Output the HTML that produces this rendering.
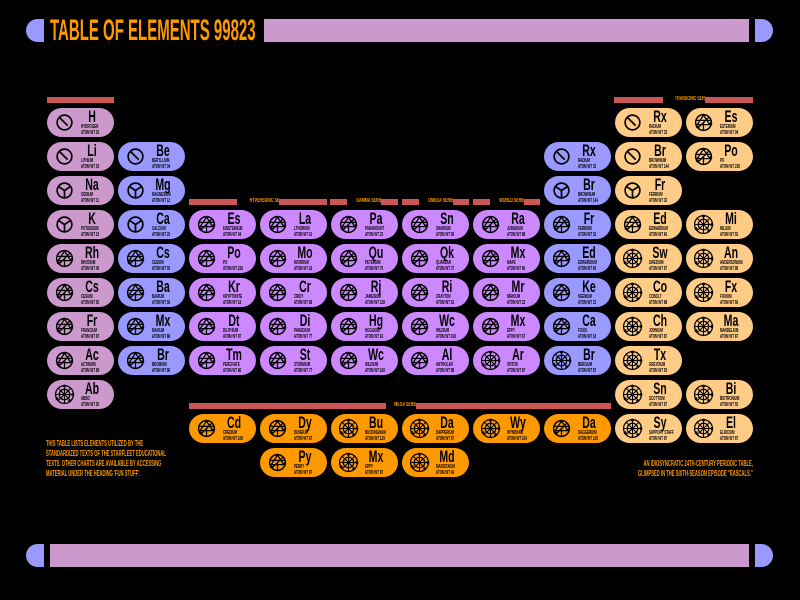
<!DOCTYPE html>
<html><head><meta charset="utf-8"><style>
*{margin:0;padding:0}
body{width:800px;height:600px;background:#000;position:relative;overflow:hidden;font-family:"Liberation Sans",sans-serif}
.a{position:absolute}
.p{position:absolute;width:67px;height:29px;border-radius:15px;overflow:hidden}
.pk{background:#cc99cc}.bl{background:#9999ff}.pu{background:#cc88ff}.pe{background:#ffcc88}.or{background:#ff9900}
.p svg{position:absolute;left:7px;top:4px;width:21px;height:21px}
.s{position:absolute;left:30px;top:0px;width:30px;text-align:center;font-weight:bold;font-size:17px;line-height:18px;color:#000;transform:scaleX(.62)}
.n{position:absolute;left:34px;top:17px;font-size:5px;line-height:5px;color:#000;font-weight:bold;transform:scaleX(.6);transform-origin:left;white-space:nowrap}
.w{position:absolute;left:34px;top:23px;font-size:5px;line-height:5px;color:#000;font-weight:bold;transform:scaleX(.6);transform-origin:left;white-space:nowrap}
.bar{position:absolute;background:#cc5555;height:6px}
.lab{position:absolute;background:#000;color:#ff9900;font-weight:bold;font-size:6px;line-height:7px;text-align:center;white-space:nowrap;overflow:hidden}
.lab span{display:inline-block;transform:scaleX(.6)}
.txt{position:absolute;color:#ff9900;font-weight:bold;font-size:8px;line-height:10px;white-space:nowrap;transform:scaleX(.52)}
</style></head><body>
<svg width="0" height="0" style="position:absolute">
<defs>
<symbol id="i1" viewBox="0 0 20 20"><circle cx="10" cy="10" r="7" fill="none" stroke="#000" stroke-width="1.6"/><line x1="5" y1="5" x2="13" y2="13" stroke="#000" stroke-width="1.6"/></symbol>
<symbol id="i2" viewBox="0 0 20 20"><circle cx="10" cy="10" r="7" fill="none" stroke="#000" stroke-width="1.6"/><path d="M10 10L4 6M10 10L16 6M10 10L10 17" stroke="#000" stroke-width="1.6"/></symbol>
<symbol id="i3" viewBox="0 0 20 20"><circle cx="10" cy="10" r="7.5" fill="none" stroke="#000" stroke-width="1.4"/><path d="M10 3L16 12L4 12ZM10 10L10 17M3 8L17 8M5 15L15 5" stroke="#000" stroke-width="1.2" fill="none"/><circle cx="10" cy="3" r="1.3"/><circle cx="17" cy="11" r="1.3"/><circle cx="4" cy="14" r="1.3"/></symbol>
<symbol id="i4" viewBox="0 0 20 20"><circle cx="10" cy="10" r="8.5" fill="none" stroke="#000" stroke-width="1.2"/><circle cx="10" cy="10" r="5" fill="none" stroke="#000" stroke-width="1.2"/><path d="M10 1V19M1 10H19M4 4L16 16M16 4L4 16" stroke="#000" stroke-width="1"/><circle cx="10" cy="2" r="1.4"/><circle cx="18" cy="10" r="1.4"/><circle cx="3" cy="14" r="1.4"/><circle cx="15" cy="16" r="1.4"/></symbol>
</defs></svg>

<!-- header -->
<div class="a" style="left:26px;top:19px;width:18px;height:23px;background:#9999ff;border-radius:12px 0 0 12px"></div>
<div class="a" style="left:50px;top:14px;color:#ff9900;font-weight:bold;font-size:30px;line-height:34px;white-space:nowrap;transform:scaleX(.5);transform-origin:left">TABLE OF ELEMENTS 99823</div>
<div class="a" style="left:264px;top:19px;width:485px;height:23px;background:#cc99cc"></div>
<div class="a" style="left:755px;top:19px;width:18px;height:23px;background:#9999ff;border-radius:0 12px 12px 0"></div>
<!-- footer -->
<div class="a" style="left:26px;top:544px;width:18px;height:23px;background:#9999ff;border-radius:12px 0 0 12px"></div>
<div class="a" style="left:50px;top:544px;width:699px;height:23px;background:#cc99cc"></div>
<div class="a" style="left:755px;top:544px;width:18px;height:23px;background:#9999ff;border-radius:0 12px 12px 0"></div>

<!-- series bars -->
<div class="bar" style="left:47px;top:97px;width:67px"></div>
<div class="bar" style="left:614px;top:97px;width:139px"></div><div class="lab" style="left:663px;top:96px;width:42px"><span>TRANSONIC SERIES</span></div>
<div class="bar" style="left:189px;top:199px;width:138px"></div><div class="lab" style="left:237px;top:198px;width:42px"><span>HYPERSONIC SERIES</span></div>
<div class="bar" style="left:330px;top:199px;width:68px"></div><div class="lab" style="left:347px;top:198px;width:34px"><span>GAMMA SERIES</span></div>
<div class="bar" style="left:402px;top:199px;width:67px"></div><div class="lab" style="left:419px;top:198px;width:34px"><span>OMEGA SERIES</span></div>
<div class="bar" style="left:473px;top:199px;width:67px"></div><div class="lab" style="left:490px;top:198px;width:34px"><span>WORLD SERIES</span></div>
<div class="bar" style="left:189px;top:403px;width:422px"></div><div class="lab" style="left:386px;top:402px;width:30px"><span>MEGA SERIES</span></div>

<!-- col0 -->
<div class="p pk" style="left:47px;top:108px"><svg><use href="#i1"/></svg><div class="s">H</div><div class="n">HYDROGEN</div><div class="w">ATOM WT 01</div></div>
<div class="p pk" style="left:47px;top:142px"><svg><use href="#i1"/></svg><div class="s">Li</div><div class="n">LITHIUM</div><div class="w">ATOM WT 03</div></div>
<div class="p pk" style="left:47px;top:176px"><svg><use href="#i2"/></svg><div class="s">Na</div><div class="n">SODIUM</div><div class="w">ATOM WT 11</div></div>
<div class="p pk" style="left:47px;top:210px"><svg><use href="#i2"/></svg><div class="s">K</div><div class="n">POTASSIUM</div><div class="w">ATOM WT 19</div></div>
<div class="p pk" style="left:47px;top:244px"><svg><use href="#i3"/></svg><div class="s">Rh</div><div class="n">RHODIUM</div><div class="w">ATOM WT 45</div></div>
<div class="p pk" style="left:47px;top:278px"><svg><use href="#i3"/></svg><div class="s">Cs</div><div class="n">CESIUM</div><div class="w">ATOM WT 55</div></div>
<div class="p pk" style="left:47px;top:312px"><svg><use href="#i3"/></svg><div class="s">Fr</div><div class="n">FRANCIUM</div><div class="w">ATOM WT 87</div></div>
<div class="p pk" style="left:47px;top:346px"><svg><use href="#i3"/></svg><div class="s">Ac</div><div class="n">ACTINIUM</div><div class="w">ATOM WT 89</div></div>
<div class="p pk" style="left:47px;top:380px"><svg><use href="#i4"/></svg><div class="s">Ab</div><div class="n">ABBO</div><div class="w">ATOM WT 55</div></div>
<!-- col1 -->
<div class="p bl" style="left:118px;top:142px"><svg><use href="#i1"/></svg><div class="s">Be</div><div class="n">BERYLLIUM</div><div class="w">ATOM WT 04</div></div>
<div class="p bl" style="left:118px;top:176px"><svg><use href="#i2"/></svg><div class="s">Mg</div><div class="n">MAGNESIUM</div><div class="w">ATOM WT 12</div></div>
<div class="p bl" style="left:118px;top:210px"><svg><use href="#i2"/></svg><div class="s">Ca</div><div class="n">CALCIUM</div><div class="w">ATOM WT 20</div></div>
<div class="p bl" style="left:118px;top:244px"><svg><use href="#i3"/></svg><div class="s">Cs</div><div class="n">CESIUM</div><div class="w">ATOM WT 55</div></div>
<div class="p bl" style="left:118px;top:278px"><svg><use href="#i3"/></svg><div class="s">Ba</div><div class="n">BARIUM</div><div class="w">ATOM WT 56</div></div>
<div class="p bl" style="left:118px;top:312px"><svg><use href="#i3"/></svg><div class="s">Mx</div><div class="n">MAXIUM</div><div class="w">ATOM WT 88</div></div>
<div class="p bl" style="left:118px;top:346px"><svg><use href="#i3"/></svg><div class="s">Br</div><div class="n">BROMIUM</div><div class="w">ATOM WT 80</div></div>
<!-- purple block -->
<div class="p pu" style="left:189px;top:210px"><svg><use href="#i3"/></svg><div class="s">Es</div><div class="n">EINSTEINIUM</div><div class="w">ATOM WT 04</div></div>
<div class="p pu" style="left:260px;top:210px"><svg><use href="#i3"/></svg><div class="s">La</div><div class="n">LTHORIUM</div><div class="w">ATOM WT 16</div></div>
<div class="p pu" style="left:331px;top:210px"><svg><use href="#i3"/></svg><div class="s">Pa</div><div class="n">PARAMOUNT</div><div class="w">ATOM WT 23</div></div>
<div class="p pu" style="left:402px;top:210px"><svg><use href="#i3"/></svg><div class="s">Sn</div><div class="n">SHAWIUM</div><div class="w">ATOM WT 56</div></div>
<div class="p pu" style="left:473px;top:210px"><svg><use href="#i3"/></svg><div class="s">Ra</div><div class="n">JURADIUM</div><div class="w">ATOM WT 88</div></div>
<div class="p pu" style="left:189px;top:244px"><svg><use href="#i3"/></svg><div class="s">Po</div><div class="n">PO</div><div class="w">ATOM WT 238</div></div>
<div class="p pu" style="left:260px;top:244px"><svg><use href="#i3"/></svg><div class="s">Mo</div><div class="n">MOORIUM</div><div class="w">ATOM WT 18</div></div>
<div class="p pu" style="left:331px;top:244px"><svg><use href="#i3"/></svg><div class="s">Qu</div><div class="n">PETERIUM</div><div class="w">ATOM WT 76</div></div>
<div class="p pu" style="left:402px;top:244px"><svg><use href="#i3"/></svg><div class="s">Qk</div><div class="n">QUARLAR</div><div class="w">ATOM WT 37</div></div>
<div class="p pu" style="left:473px;top:244px"><svg><use href="#i3"/></svg><div class="s">Mx</div><div class="n">MAPE</div><div class="w">ATOM WT 80</div></div>
<div class="p pu" style="left:189px;top:278px"><svg><use href="#i3"/></svg><div class="s">Kr</div><div class="n">KRYPTONITE</div><div class="w">ATOM WT 18</div></div>
<div class="p pu" style="left:260px;top:278px"><svg><use href="#i3"/></svg><div class="s">Cr</div><div class="n">CRIDY</div><div class="w">ATOM WT 68</div></div>
<div class="p pu" style="left:331px;top:278px"><svg><use href="#i3"/></svg><div class="s">Rj</div><div class="n">JAMESIUM</div><div class="w">ATOM WT 128</div></div>
<div class="p pu" style="left:402px;top:278px"><svg><use href="#i3"/></svg><div class="s">Ri</div><div class="n">CRAYTON</div><div class="w">ATOM WT 62</div></div>
<div class="p pu" style="left:473px;top:278px"><svg><use href="#i3"/></svg><div class="s">Mr</div><div class="n">MIRKIUM</div><div class="w">ATOM WT 22</div></div>
<div class="p pu" style="left:189px;top:312px"><svg><use href="#i3"/></svg><div class="s">Dt</div><div class="n">DILITHIUM</div><div class="w">ATOM WT 87</div></div>
<div class="p pu" style="left:260px;top:312px"><svg><use href="#i3"/></svg><div class="s">Di</div><div class="n">PARADIUM</div><div class="w">ATOM WT 77</div></div>
<div class="p pu" style="left:331px;top:312px"><svg><use href="#i3"/></svg><div class="s">Hg</div><div class="n">HOGGIUM</div><div class="w">ATOM WT 62</div></div>
<div class="p pu" style="left:402px;top:312px"><svg><use href="#i3"/></svg><div class="s">Wc</div><div class="n">WILDIUM</div><div class="w">ATOM WT 108</div></div>
<div class="p pu" style="left:473px;top:312px"><svg><use href="#i3"/></svg><div class="s">Mx</div><div class="n">EPPY</div><div class="w">ATOM WT 87</div></div>
<div class="p pu" style="left:189px;top:346px"><svg><use href="#i3"/></svg><div class="s">Tm</div><div class="n">PERCIVATE</div><div class="w">ATOM WT 86</div></div>
<div class="p pu" style="left:260px;top:346px"><svg><use href="#i3"/></svg><div class="s">St</div><div class="n">STORMIUM</div><div class="w">ATOM WT 77</div></div>
<div class="p pu" style="left:331px;top:346px"><svg><use href="#i3"/></svg><div class="s">Wc</div><div class="n">WILDIUM</div><div class="w">ATOM WT 108</div></div>
<div class="p pu" style="left:402px;top:346px"><svg><use href="#i3"/></svg><div class="s">Al</div><div class="n">ANTHOLAR</div><div class="w">ATOM WT 88</div></div>
<div class="p pu" style="left:473px;top:346px"><svg><use href="#i4"/></svg><div class="s">Ar</div><div class="n">ORTON</div><div class="w">ATOM WT 87</div></div>
<!-- col7 -->
<div class="p bl" style="left:544px;top:142px"><svg><use href="#i1"/></svg><div class="s">Rx</div><div class="n">RADIUM</div><div class="w">ATOM WT 32</div></div>
<div class="p bl" style="left:544px;top:176px"><svg><use href="#i2"/></svg><div class="s">Br</div><div class="n">BROWNIUM</div><div class="w">ATOM WT 144</div></div>
<div class="p bl" style="left:544px;top:210px"><svg><use href="#i3"/></svg><div class="s">Fr</div><div class="n">FERRIUM</div><div class="w">ATOM WT 32</div></div>
<div class="p bl" style="left:544px;top:244px"><svg><use href="#i3"/></svg><div class="s">Ed</div><div class="n">EDWARDIUM</div><div class="w">ATOM WT 66</div></div>
<div class="p bl" style="left:544px;top:278px"><svg><use href="#i3"/></svg><div class="s">Ke</div><div class="n">KEENIUM</div><div class="w">ATOM WT 22</div></div>
<div class="p bl" style="left:544px;top:312px"><svg><use href="#i3"/></svg><div class="s">Ca</div><div class="n">FOXIS</div><div class="w">ATOM WT 18</div></div>
<div class="p bl" style="left:544px;top:346px"><svg><use href="#i4"/></svg><div class="s">Br</div><div class="n">BERGIUM</div><div class="w">ATOM WT 87</div></div>
<!-- col8 -->
<div class="p pe" style="left:615px;top:108px"><svg><use href="#i1"/></svg><div class="s">Rx</div><div class="n">RADIUM</div><div class="w">ATOM WT 32</div></div>
<div class="p pe" style="left:615px;top:142px"><svg><use href="#i1"/></svg><div class="s">Br</div><div class="n">BROWNIUM</div><div class="w">ATOM WT 144</div></div>
<div class="p pe" style="left:615px;top:176px"><svg><use href="#i2"/></svg><div class="s">Fr</div><div class="n">FERRIUM</div><div class="w">ATOM WT 32</div></div>
<div class="p pe" style="left:615px;top:210px"><svg><use href="#i3"/></svg><div class="s">Ed</div><div class="n">EDWARDIUM</div><div class="w">ATOM WT 66</div></div>
<div class="p pe" style="left:615px;top:244px"><svg><use href="#i4"/></svg><div class="s">Sw</div><div class="n">SWEDIUM</div><div class="w">ATOM WT 87</div></div>
<div class="p pe" style="left:615px;top:278px"><svg><use href="#i4"/></svg><div class="s">Co</div><div class="n">COBOLT</div><div class="w">ATOM WT 88</div></div>
<div class="p pe" style="left:615px;top:312px"><svg><use href="#i4"/></svg><div class="s">Ch</div><div class="n">JOHNIUM</div><div class="w">ATOM WT 87</div></div>
<div class="p pe" style="left:615px;top:346px"><svg><use href="#i4"/></svg><div class="s">Tx</div><div class="n">GREYDIUM</div><div class="w">ATOM WT 55</div></div>
<div class="p pe" style="left:615px;top:380px"><svg><use href="#i4"/></svg><div class="s">Sn</div><div class="n">SCOTTIUM</div><div class="w">ATOM WT 87</div></div>
<div class="p pe" style="left:615px;top:414px"><svg><use href="#i4"/></svg><div class="s">Sy</div><div class="n">SUPPORT STAFF</div><div class="w">ATOM WT 87</div></div>
<!-- col9 -->
<div class="p pe" style="left:686px;top:108px"><svg><use href="#i3"/></svg><div class="s">Es</div><div class="n">ESTERIUM</div><div class="w">ATOM WT 04</div></div>
<div class="p pe" style="left:686px;top:142px"><svg><use href="#i3"/></svg><div class="s">Po</div><div class="n">PO</div><div class="w">ATOM WT 238</div></div>
<div class="p pe" style="left:686px;top:210px"><svg><use href="#i4"/></svg><div class="s">Mi</div><div class="n">MILIUM</div><div class="w">ATOM WT 55</div></div>
<div class="p pe" style="left:686px;top:244px"><svg><use href="#i4"/></svg><div class="s">An</div><div class="n">ANDERSONIUM</div><div class="w">ATOM WT 88</div></div>
<div class="p pe" style="left:686px;top:278px"><svg><use href="#i4"/></svg><div class="s">Fx</div><div class="n">FOXIUM</div><div class="w">ATOM WT 56</div></div>
<div class="p pe" style="left:686px;top:312px"><svg><use href="#i4"/></svg><div class="s">Ma</div><div class="n">MANDELIUM</div><div class="w">ATOM WT 87</div></div>
<div class="p pe" style="left:686px;top:380px"><svg><use href="#i4"/></svg><div class="s">Bi</div><div class="n">BIOTRONIUM</div><div class="w">ATOM WT 55</div></div>
<div class="p pe" style="left:686px;top:414px"><svg><use href="#i4"/></svg><div class="s">El</div><div class="n">ELRICIUM</div><div class="w">ATOM WT 87</div></div>
<!-- mega -->
<div class="p or" style="left:189px;top:414px"><svg><use href="#i3"/></svg><div class="s">Cd</div><div class="n">CREDIUM</div><div class="w">ATOM WT 108</div></div>
<div class="p or" style="left:260px;top:414px"><svg><use href="#i3"/></svg><div class="s">Dy</div><div class="n">DUNEIUM</div><div class="w">ATOM WT 87</div></div>
<div class="p or" style="left:331px;top:414px"><svg><use href="#i4"/></svg><div class="s">Bu</div><div class="n">BUCKINGHAM</div><div class="w">ATOM WT 129</div></div>
<div class="p or" style="left:402px;top:414px"><svg><use href="#i4"/></svg><div class="s">Da</div><div class="n">DAPPERIUM</div><div class="w">ATOM WT 87</div></div>
<div class="p or" style="left:473px;top:414px"><svg><use href="#i4"/></svg><div class="s">Wy</div><div class="n">WYNDHAM</div><div class="w">ATOM WT 154</div></div>
<div class="p or" style="left:544px;top:414px"><svg><use href="#i3"/></svg><div class="s">Da</div><div class="n">DAGGERIUM</div><div class="w">ATOM WT 108</div></div>
<div class="p or" style="left:260px;top:448px"><svg><use href="#i3"/></svg><div class="s">Py</div><div class="n">PERRY</div><div class="w">ATOM WT 87</div></div>
<div class="p or" style="left:331px;top:448px"><svg><use href="#i4"/></svg><div class="s">Mx</div><div class="n">EPPY</div><div class="w">ATOM WT 87</div></div>
<div class="p or" style="left:402px;top:448px"><svg><use href="#i4"/></svg><div class="s">Md</div><div class="n">MADDOXIUM</div><div class="w">ATOM WT 66</div></div>

<!-- notes -->
<div class="txt" style="left:46px;top:439px;transform-origin:left">THIS TABLE LISTS ELEMENTS UTILIZED BY THE<br>STANDARDIZED TEXTS OF THE STARFLEET EDUCATIONAL<br>TEXTS. OTHER CHARTS ARE AVAILABLE BY ACCESSING<br>MATERIAL UNDER THE HEADING 'FUN STUFF'.</div>
<div class="txt" style="right:47px;top:459px;text-align:right;transform-origin:right">AN IDIOSYNCRATIC 24TH-CENTURY PERIODIC TABLE,<br>GLIMPSED IN THE SIXTH-SEASON EPISODE "RASCALS."</div>
</body></html>
